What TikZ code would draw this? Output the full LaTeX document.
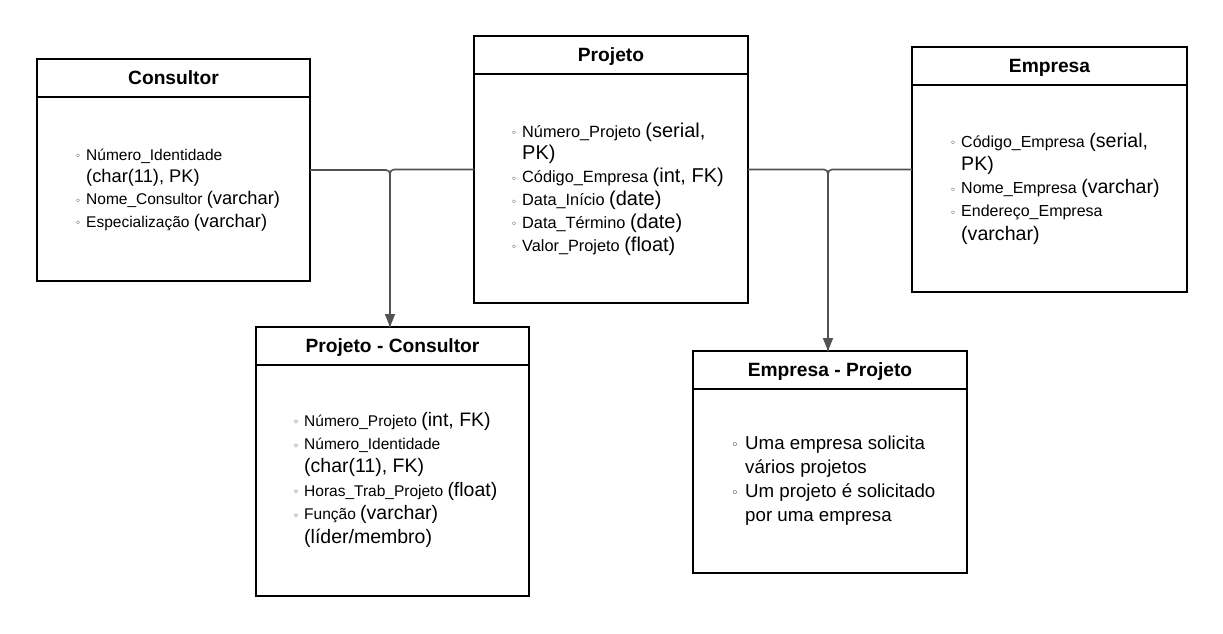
\documentclass[tikz,border=0pt]{standalone}
\usepackage{fontspec}
\setmainfont{Liberation Sans}
\newfontfamily\dejavu{DejaVu Sans}
\usetikzlibrary{arrows.meta}
\newcommand\bl{\makebox[11pt][l]{\raisebox{0.3pt}{\dejavu\fontsize{10}{10}\selectfont ◦}}}
\newcommand\bll{\makebox[14pt][l]{\raisebox{0.3pt}{\dejavu\fontsize{13}{13}\selectfont ◦}}}
\def\tys{18}\def\bls{23}
\newcommand\ty[1]{{\fontsize{\tys}{\bls}\selectfont #1}}
\newcommand\ind{\hspace*{11pt}}
\newcommand\indd{\hspace*{14pt}}
\begin{document}
\begin{tikzpicture}[x=1pt,y=-1pt,
  box/.style={draw=black,line width=1.6pt,inner sep=0pt,outer sep=0pt},
  ttl/.style={anchor=base,inner sep=0pt,font=\bfseries\fontsize{19.2}{22}\selectfont},
  lst/.style n args={3}{anchor=base west,align=left,inner sep=0pt,
    font={\def\tys{#2}\def\bls{#3}\fontsize{#1}{#3}\selectfont}},
  conn/.style={draw=black!68,line width=1.6pt,rounded corners=4pt},
  arr/.style={-{Triangle[length=13pt,width=10pt]}}]
\useasboundingbox (0,0) rectangle (1223,633);
% boxes
\node[box,minimum width=273pt,minimum height=222pt] (cons) at (173.5,170) {};
\node[box,minimum width=274pt,minimum height=267pt] (proj) at (611,169.5) {};
\node[box,minimum width=275pt,minimum height=245pt] (emp) at (1049.5,169.5) {};
\node[box,minimum width=273pt,minimum height=269pt] (pc) at (392.5,461.5) {};
\node[box,minimum width=274pt,minimum height=222pt] (ep) at (830,462) {};
% header lines
\foreach \b in {cons,proj,emp,pc,ep}{
  \draw[line width=1.6pt] ([yshift=-38pt]\b.north west) -- ([yshift=-38pt]\b.north east);
}
% titles
\node[ttl] (tcons) at ([yshift=-25.5pt]cons.north) {Consultor};
\node[ttl] (tproj) at ([yshift=-25.5pt]proj.north) {Projeto};
\node[ttl] (temp) at ([yshift=-25.5pt]emp.north) {Empresa};
\node[ttl] (tpc) at ([yshift=-25.5pt]pc.north) {Projeto - Consultor};
\node[ttl] (tep) at ([yshift=-25.5pt]ep.north) {Empresa - Projeto};
% contents
\node[lst={15.5}{18.3}{22.3}] (lcons) at (75,227) {\bl Número\_Identidade\\ \ind\ty{(char(11), PK)}\\ \bl Nome\_Consultor \ty{(varchar)}\\ \bl Especialização \ty{(varchar)}};
\node[lst={16.3}{20}{22.8}] (lproj) at (511,251) {\bl Número\_Projeto \ty{(serial,}\\ \ind\ty{PK)}\\ \bl Código\_Empresa \ty{(int, FK)}\\ \bl Data\_Início \ty{(date)}\\ \bl Data\_Término \ty{(date)}\\ \bl Valor\_Projeto \ty{(float)}};
\node[lst={16}{19.6}{23.2}] (lemp) at (950,240) {\bl Código\_Empresa \ty{(serial,}\\ \ind\ty{PK)}\\ \bl Nome\_Empresa \ty{(varchar)}\\ \bl Endereço\_Empresa\\ \ind\ty{(varchar)}};
\node[lst={15.5}{19.5}{23.4}] (lpc) at (293,543) {\bl Número\_Projeto \ty{(int, FK)}\\ \bl Número\_Identidade\\ \ind\ty{(char(11), FK)}\\ \bl Horas\_Trab\_Projeto \ty{(float)}\\ \bl Função \ty{(varchar)}\\ \ind\ty{(líder/membro)}};
\node[lst={18.7}{18.7}{23.7}] (lep) at (731,521) {\bll Uma empresa solicita\\ \indd vários projetos\\ \bll Um projeto é solicitado\\ \indd por uma empresa};
% connectors
\draw[conn] (cons.east) -| ([xshift=-2.5pt]pc.north);
\draw[conn,arr] (proj.west) -| ([xshift=-2.5pt]pc.north);
\draw[conn] (proj.east) -| ([xshift=-2pt]ep.north);
\draw[conn,arr] (emp.west) -| ([xshift=-2pt]ep.north);
\end{tikzpicture}
\end{document}
